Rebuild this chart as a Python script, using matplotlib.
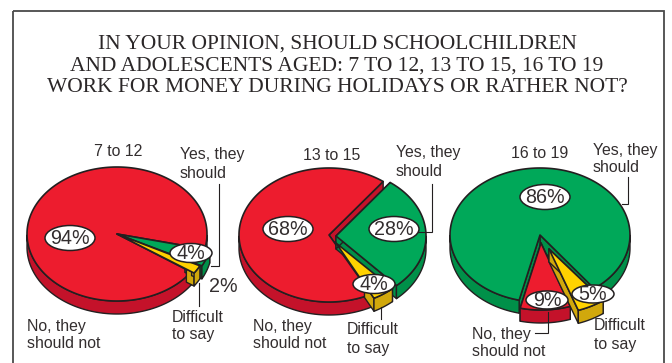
import matplotlib
matplotlib.use("Agg")
import matplotlib.pyplot as plt
from matplotlib.patches import Ellipse, Polygon, Rectangle
import numpy as np

ages = ["7 to 12", "13 to 15", "16 to 19"]
no_share = [94, 68, 9]
yes_share = [4, 28, 86]
hard_share = [2, 4, 5]

title_lines = [
    "IN YOUR OPINION, SHOULD SCHOOLCHILDREN",
    "AND ADOLESCENTS AGED: 7 TO 12, 13 TO 15, 16 TO 19",
    "WORK FOR MONEY DURING HOLIDAYS OR RATHER NOT?",
]

# pie layout, in pixels
centers = [(117, 234), (329, 235), (540, 235)]
red_start = [-13, 53, 256.6]
RX, RY, DEPTH = 90, 67, 13

# per slice placement: rim offset, tip offset, where the cut face begins along the edge
place_no = [((0, 0), (0, 0), 0.0), ((0, 0), (0, 0), 0.0), ((1, 8), (1, 8), 0.0)]
place_hard = [((3, 1), (0, 0), 0.9), ((3, 4), (7, 8), 0.75), ((9, 12), (9, 14), 0.0)]
place_yes = [((5, 1), (0, 0), 0.8), ((7, 1), (7, 1), 0.0), ((0, 0), (0, 0), 0.0)]

RED, RED_DARK = "#ED1C2E", "#C4122A"
GREEN, GREEN_DARK = "#00A859", "#009049"
YELLOW, YELLOW_DARK = "#FFD200", "#D1A80C"
INK = "#231F20"
TEXT = "#332E2F"


def rim(cx, cy, t):
    t = np.radians(t)
    return np.column_stack([cx + RX * np.cos(t), cy - RY * np.sin(t)])


def draw_wedge(ax, cx, cy, t0, t1, face, dark, place):
    rim_off, tip_off, cut_from = place
    ts = np.linspace(t0, t1, 200)
    pts = rim(cx + rim_off[0], cy + rim_off[1], ts)
    tip = np.array([cx + tip_off[0], cy + tip_off[1]], dtype=float)
    down = np.array([0, DEPTH])

    # straight cut faces
    for edge in (pts[0], pts[-1]):
        start = tip + cut_from * (edge - tip)
        quad = [start, edge, edge + down, start + down]
        ax.add_patch(Polygon(quad, fc=dark, ec=INK, lw=1.0, joinstyle="round"))

    # outer wall, only where the rim faces the viewer
    front = np.sin(np.radians(ts)) <= 0
    groups = np.split(np.arange(len(ts)), np.where(np.diff(front.astype(int)) != 0)[0] + 1)
    for g in groups:
        if front[g[0]] and len(g) > 1:
            arc = pts[g]
            wall = np.vstack([arc, arc[::-1] + down])
            ax.add_patch(Polygon(wall, fc=dark, ec=INK, lw=1.0, joinstyle="round"))

    ax.add_patch(Polygon(np.vstack([tip, pts]), fc=face, ec=INK, lw=1.2, joinstyle="round"))


fig = plt.figure(figsize=(6.72, 3.63), dpi=100)
ax = fig.add_axes([0, 0, 1, 1])
ax.set_xlim(0, 672)
ax.set_ylim(363, 0)
ax.axis("off")

ax.add_patch(Rectangle((12.5, 11), 651, 380, fc="none", ec="#4A4A4A", lw=1.3))

for y, line in zip([44, 66, 88], title_lines):
    ax.text(337, y, line, family="Liberation Serif", fontsize=15.5, color="#2B2728",
            ha="center", va="center")

for i in range(3):
    cx, cy = centers[i]
    a = red_start[i]
    b = a + no_share[i] * 3.6
    c = b + hard_share[i] * 3.6
    d = c + yes_share[i] * 3.6
    wedges = [
        (no_share[i], a, b, RED, RED_DARK, place_no[i]),
        (hard_share[i], b, c, YELLOW, YELLOW_DARK, place_hard[i]),
        (yes_share[i], c, d, GREEN, GREEN_DARK, place_yes[i]),
    ]
    # big slices first so the pulled out ones sit on top
    for share, t0, t1, face, dark, place in sorted(wedges, key=lambda w: -w[0]):
        draw_wedge(ax, cx, cy, t0, t1, face, dark, place)

# leader lines
leaders = [
    [(219, 184), (219, 266), (211, 266)],
    [(199, 283), (199, 306)],
    [(432, 184), (432, 232), (418, 232)],
    [(381, 307), (381, 319)],
    [(628, 177), (628, 204), (622, 204)],
    [(535, 333), (548, 333), (548, 312)],
]
for path in leaders:
    xs, ys = zip(*path)
    ax.plot(xs, ys, color=INK, lw=0.8, solid_joinstyle="miter")

# percentage badges: (x, y, width, height, value)
badges = [
    (70, 238, 50, 25, no_share[0]),
    (191, 253, 42, 19, yes_share[0]),
    (288, 229, 50, 25, no_share[1]),
    (394, 229, 50, 25, yes_share[1]),
    (374, 284, 42, 19, hard_share[1]),
    (545, 197, 50, 25, yes_share[2]),
    (547, 300, 42, 18, no_share[2]),
    (593, 294, 42, 18, hard_share[2]),
]
for x, y, w, h, val in badges:
    ax.add_patch(Ellipse((x, y), w, h, fc="white", ec=INK, lw=1.1, zorder=5))
    ax.text(x, y + 0.5, f"{val}%", family="Liberation Sans", fontsize=14.2, color=TEXT,
            ha="center", va="center", zorder=6)
ax.text(223, 287, f"{hard_share[0]}%", family="Liberation Sans", fontsize=14.2, color=TEXT,
        ha="center", va="center")

for age, x, y in zip(ages, [118, 332, 540], [152, 155, 154]):
    ax.text(x, y, age, family="Liberation Sans", fontsize=11.4, color=TEXT, ha="center", va="center")

# slice captions: (x, first line y, second line y, first line, second line)
captions = [
    (180, 155, 173, "Yes, they", "should"),
    (172, 317, 335, "Difficult", "to say"),
    (27, 326, 343, "No, they", "should not"),
    (396, 153, 172, "Yes, they", "should"),
    (347, 329, 348, "Difficult", "to say"),
    (253, 326, 344, "No, they", "should not"),
    (593, 151, 168, "Yes, they", "should"),
    (594, 326, 345, "Difficult", "to say"),
    (472, 334, 352, "No, they", "should not"),
]
for x, y1, y2, first, second in captions:
    ax.text(x, y1, first, family="Liberation Sans", fontsize=11.4, color=TEXT, va="center")
    ax.text(x, y2, second, family="Liberation Sans", fontsize=11.4, color=TEXT, va="center")

fig.savefig("out.png", dpi=100)
